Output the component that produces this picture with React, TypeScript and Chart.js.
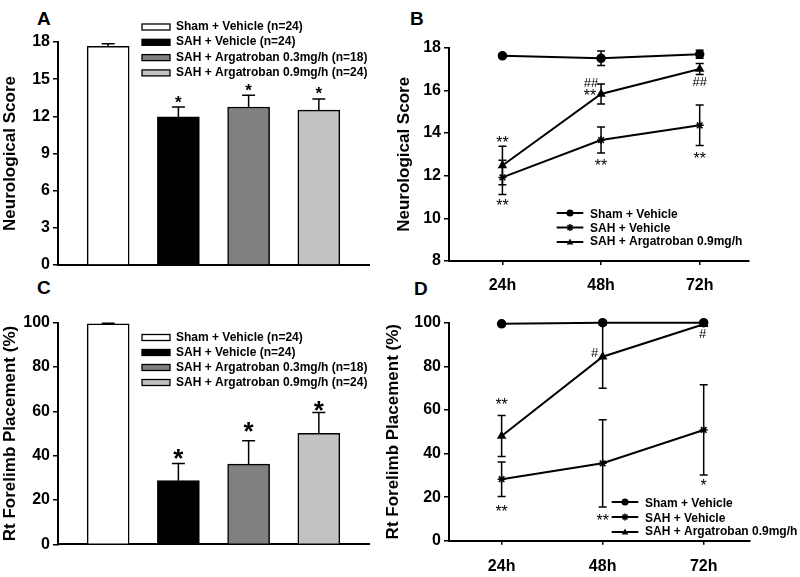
import React, { useEffect, useRef } from "react";
import { Chart, registerables } from "chart.js";

Chart.register(...registerables);

const FONT = '"Liberation Sans", Arial, Helvetica, sans-serif';

// ---------------- data ----------------
const BAR_GROUPS = [
  "Sham + Vehicle (n=24)",
  "SAH + Vehicle (n=24)",
  "SAH + Argatroban 0.3mg/h (n=18)",
  "SAH + Argatroban 0.9mg/h (n=24)",
];
const BAR_X = [0, 1, 2, 3];
const BAR_COLORS = ["#ffffff", "#000000", "#808080", "#c2c2c2"];

const A_SCORE = [17.65, 11.95, 12.75, 12.5];
const A_SEM = [0.2, 0.8, 0.95, 0.9];
const A_SIG = ["", "*", "*", "*"];
const A_Y_TICKS = [0, 3, 6, 9, 12, 15, 18];

const C_PLACEMENT = [99.5, 28.7, 36.2, 50.1];
const C_SEM = [0.3, 7.8, 10.5, 9.4];
const C_SIG = ["", "*", "*", "*"];
const C_Y_TICKS = [0, 20, 40, 60, 80, 100];

const TIMES = [24, 48, 72];
const TIME_LABELS = ["24h", "48h", "72h"];
const LINE_GROUPS = ["Sham + Vehicle", "SAH + Vehicle", "SAH + Argatroban 0.9mg/h"];
const LINE_MARKERS = ["circle", "star", "triangle"];

const B_SHAM = [17.62, 17.5, 17.69];
const B_SHAM_SEM = [0.08, 0.34, 0.19];
const B_SAH = [11.92, 13.67, 14.36];
const B_SAH_SEM = [0.8, 0.61, 0.95];
const B_ARG = [12.48, 15.83, 17.0];
const B_ARG_SEM = [0.9, 0.47, 0.26];
const B_Y_TICKS = [8, 10, 12, 14, 16, 18];

const D_SHAM = [99.5, 100, 100];
const D_SHAM_SEM = [0.3, 0, 0];
const D_SAH = [28.2, 35.5, 50.8];
const D_SAH_SEM = [7.9, 20, 20.7];
const D_ARG = [48.0, 84.4, 99.3];
const D_ARG_SEM = [9.4, 14.5, 0.6];
const D_Y_TICKS = [0, 20, 40, 60, 80, 100];

// significance marks: text, series, point index, anchor
const B_SIG = [
  { text: "**", series: 2, i: 0, at: "top" },
  { text: "**", series: 1, i: 0, at: "bottom" },
  { text: "##", series: 2, i: 1, at: "point" },
  { text: "**", series: 2, i: 1, at: "point" },
  { text: "**", series: 1, i: 1, at: "bottom" },
  { text: "##", series: 2, i: 2, at: "bottom" },
  { text: "**", series: 1, i: 2, at: "bottom" },
];
const D_SIG = [
  { text: "**", series: 2, i: 0, at: "top" },
  { text: "**", series: 1, i: 0, at: "bottom" },
  { text: "#", series: 2, i: 1, at: "point" },
  { text: "**", series: 1, i: 1, at: "bottom" },
  { text: "*", series: 1, i: 2, at: "bottom" },
  { text: "#", series: 2, i: 2, at: "point" },
];

// ---------------- layout (page pixels) ----------------
const PANELS: any = {
  A: { left: 0, top: 0, width: 400, height: 280, area: { l: 58, t: 42, r: 369, b: 265 } },
  B: { left: 394, top: 0, width: 406, height: 295, area: { l: 449, t: 47.7, r: 749, b: 261 } },
  C: { left: 0, top: 280, width: 400, height: 297, area: { l: 58, t: 322.7, r: 369, b: 544.3 } },
  D: { left: 383, top: 280, width: 417, height: 297, area: { l: 449, t: 322.7, r: 750, b: 540.7 } },
};
const A_SIG_OFFSET = [0, -8, -8, -8];
const C_SIG_OFFSET = [0, -9, -14, -6];
const B_SIG_OFFSET = [[0, -7], [0, 8], [-10, -11], [-11, -2], [0, 9], [0, 7], [0, 9.5]];
const D_SIG_OFFSET = [[0, -15], [0, 12], [-8, -4], [0, 10], [0, 7], [-1, 9]];

function drawMarker(ctx: CanvasRenderingContext2D, style: string, x: number, y: number, r: number) {
  ctx.save();
  ctx.fillStyle = "#000";
  ctx.strokeStyle = "#000";
  ctx.lineWidth = 1.5;
  ctx.beginPath();
  if (style === "circle") {
    ctx.arc(x, y, r, 0, Math.PI * 2);
    ctx.fill();
  } else if (style === "triangle") {
    ctx.moveTo(x, y - r);
    ctx.lineTo(x + r * 0.95, y + r * 0.7);
    ctx.lineTo(x - r * 0.95, y + r * 0.7);
    ctx.closePath();
    ctx.fill();
  } else {
    for (let k = 0; k < 4; k++) {
      const a = (k * Math.PI) / 4;
      ctx.moveTo(x - Math.cos(a) * r, y - Math.sin(a) * r);
      ctx.lineTo(x + Math.cos(a) * r, y + Math.sin(a) * r);
    }
    ctx.stroke();
  }
  ctx.restore();
}

function centeredText(ctx: CanvasRenderingContext2D, text: string, x: number, y: number, align: CanvasTextAlign) {
  ctx.textAlign = align;
  ctx.textBaseline = "alphabetic";
  const m = ctx.measureText(text);
  ctx.fillText(text, x, y + (m.actualBoundingBoxAscent - m.actualBoundingBoxDescent) / 2);
}

const decorPlugin = {
  id: "decor",
  afterDatasetsDraw(chart: any, _args: any, opts: any) {
    const ctx: CanvasRenderingContext2D = chart.ctx;
    const xs = chart.scales.x;
    const ys = chart.scales.y;
    const [ox, oy] = opts.origin;
    ctx.save();
    ctx.fillStyle = "#000";
    ctx.strokeStyle = "#000";
    // error bars
    (opts.errors || []).forEach((errs: number[], di: number) => {
      const ds = chart.data.datasets[di];
      ds.data.forEach((pt: any, j: number) => {
        const e = errs[j];
        if (!e) return;
        const px = xs.getPixelForValue(pt.x);
        const yTop = ys.getPixelForValue(pt.y + e);
        const yBot = opts.errorMode === "up" ? ys.getPixelForValue(pt.y) : ys.getPixelForValue(pt.y - e);
        const cap = opts.cap;
        ctx.lineWidth = opts.errorWidth;
        ctx.beginPath();
        ctx.moveTo(px, yTop);
        ctx.lineTo(px, yBot);
        ctx.moveTo(px - cap, yTop);
        ctx.lineTo(px + cap, yTop);
        if (opts.errorMode !== "up") {
          ctx.moveTo(px - cap, yBot);
          ctx.lineTo(px + cap, yBot);
        }
        ctx.stroke();
      });
    });
    // significance marks
    (opts.marks || []).forEach((m: any) => {
      if (!m.text) return;
      const pt = chart.data.datasets[m.series].data[m.i];
      const e = opts.errors[m.series][m.i];
      const v = m.at === "top" ? pt.y + e : m.at === "bottom" ? pt.y - e : pt.y;
      const x = xs.getPixelForValue(pt.x) + m.dx;
      const y = ys.getPixelForValue(v) + m.dy;
      ctx.font = m.text.includes("#") ? opts.hashFont : opts.starFont;
      centeredText(ctx, m.text, x, y, "center");
    });
    // legend
    const lg = opts.legend;
    ctx.font = `bold 12px ${FONT}`;
    lg.labels.forEach((label: string, i: number) => {
      const y = lg.y + i * lg.gap - oy;
      if (lg.type === "box") {
        const x = lg.x - ox;
        ctx.fillStyle = lg.colors[i];
        ctx.fillRect(x, y - lg.boxH / 2, lg.boxW, lg.boxH);
        ctx.lineWidth = 1.3;
        ctx.strokeStyle = "#000";
        ctx.strokeRect(x, y - lg.boxH / 2, lg.boxW, lg.boxH);
      } else {
        ctx.lineWidth = 2;
        ctx.strokeStyle = "#000";
        ctx.beginPath();
        ctx.moveTo(lg.x1 - ox, y);
        ctx.lineTo(lg.x2 - ox, y);
        ctx.stroke();
        drawMarker(ctx, lg.markers[i], (lg.x1 + lg.x2) / 2 - ox, y, 3.5);
      }
      ctx.fillStyle = "#000";
      centeredText(ctx, label, lg.textX - ox, y, "left");
    });
    ctx.restore();
  },
};

function frame(p: any) {
  return {
    yWidth: p.area.l - p.left,
    padTop: p.area.t - p.top,
    padRight: p.left + p.width - p.area.r,
    xHeight: p.top + p.height - p.area.b,
  };
}

function yAxis(p: any, ticks: number[], title: string) {
  const f = frame(p);
  return {
    type: "linear",
    min: ticks[0],
    max: ticks[ticks.length - 1],
    afterBuildTicks: (s: any) => {
      s.ticks = ticks.map((v) => ({ value: v }));
    },
    afterFit: (s: any) => {
      s.width = f.yWidth;
    },
    border: { display: true, color: "#000", width: 2 },
    grid: { display: true, drawOnChartArea: false, drawTicks: true, tickLength: 5, color: "#000", lineWidth: 1.5 },
    ticks: { color: "#000", padding: 3, font: { family: FONT, size: 16, weight: "bold" } },
    title: {
      display: true,
      text: title,
      color: "#000",
      padding: { top: 0, bottom: 0 },
      font: { family: FONT, size: 17, weight: "bold" },
    },
  };
}

function barConfig(key: string, values: number[], sems: number[], sig: string[], sigOff: number[], yTicks: number[], yTitle: string, starFont: string, legendY: number, legendGap: number): any {
  const p = PANELS[key];
  const f = frame(p);
  return {
    type: "bar",
    data: {
      datasets: [
        {
          data: BAR_X.map((x, i) => ({ x, y: values[i] })),
          backgroundColor: BAR_COLORS,
          borderColor: "#000",
          borderWidth: 1.5,
          borderSkipped: "bottom",
          barThickness: 42,
        },
      ],
    },
    options: {
      animation: false,
      responsive: false,
      maintainAspectRatio: false,
      devicePixelRatio: 1,
      layout: { padding: { left: 0, top: f.padTop, right: f.padRight, bottom: 0 } },
      scales: {
        x: {
          type: "linear",
          offset: false,
          min: -50 / 70,
          max: 3 + 50 / 70,
          afterFit: (s: any) => {
            s.height = f.xHeight;
          },
          border: { display: true, color: "#000", width: 2 },
          grid: { display: false },
          ticks: { display: false },
        },
        y: yAxis(p, yTicks, yTitle),
      },
      plugins: {
        legend: { display: false },
        tooltip: { enabled: false },
        decor: {
          origin: [p.left, p.top],
          errors: [sems],
          errorMode: "up",
          cap: 6.5,
          errorWidth: 1.5,
          starFont,
          hashFont: starFont,
          marks: sig.map((text, i) => ({ text, series: 0, i, at: "top", dx: 0, dy: sigOff[i] })),
          legend: {
            type: "box",
            labels: BAR_GROUPS,
            colors: BAR_COLORS,
            x: 142,
            textX: 176,
            boxW: 28,
            boxH: 6,
            y: legendY,
            gap: legendGap,
          },
        },
      },
    },
    plugins: [decorPlugin],
  };
}

function lineConfig(key: string, series: number[][], sems: number[][], sig: any[], sigOff: number[][], yTicks: number[], yTitle: string, xMin: number, xMax: number, labelPad: number, legend: any): any {
  const p = PANELS[key];
  const f = frame(p);
  return {
    type: "line",
    data: {
      datasets: series.map((vals, si) => ({
        label: LINE_GROUPS[si],
        data: TIMES.map((t, i) => ({ x: t, y: vals[i] })),
        borderColor: "#000",
        backgroundColor: "#000",
        borderWidth: 2,
        pointStyle: LINE_MARKERS[si],
        pointRadius: 4,
        pointBackgroundColor: "#000",
        pointBorderColor: "#000",
        pointBorderWidth: 1.5,
        tension: 0,
        clip: false,
      })),
    },
    options: {
      animation: false,
      responsive: false,
      maintainAspectRatio: false,
      devicePixelRatio: 1,
      layout: { padding: { left: 0, top: f.padTop, right: f.padRight, bottom: 0 } },
      scales: {
        x: {
          type: "linear",
          min: xMin,
          max: xMax,
          afterBuildTicks: (s: any) => {
            s.ticks = TIMES.map((v) => ({ value: v }));
          },
          afterFit: (s: any) => {
            s.height = f.xHeight;
          },
          border: { display: true, color: "#000", width: 2 },
          grid: { display: true, drawOnChartArea: false, drawTicks: true, tickLength: 4, color: "#000", lineWidth: 1.5 },
          ticks: {
            color: "#000",
            padding: labelPad,
            maxRotation: 0,
            font: { family: FONT, size: 16, weight: "bold" },
            callback: (v: number) => TIME_LABELS[TIMES.indexOf(v)],
          },
        },
        y: yAxis(p, yTicks, yTitle),
      },
      plugins: {
        legend: { display: false },
        tooltip: { enabled: false },
        decor: {
          origin: [p.left, p.top],
          errors: sems,
          errorMode: "both",
          cap: 4,
          errorWidth: 1.5,
          starFont: `16px ${FONT}`,
          hashFont: `13px ${FONT}`,
          marks: sig.map((m, i) => ({ ...m, dx: sigOff[i][0], dy: sigOff[i][1] })),
          legend: { type: "line", labels: LINE_GROUPS, markers: LINE_MARKERS, ...legend },
        },
      },
    },
    plugins: [decorPlugin],
  };
}

function Panel({ id, make }: { id: string; make: () => any }) {
  const ref = useRef<HTMLCanvasElement>(null);
  const p = PANELS[id];
  useEffect(() => {
    const chart = new Chart(ref.current as HTMLCanvasElement, make());
    return () => chart.destroy();
  }, []);
  return (
    <canvas
      ref={ref}
      width={p.width}
      height={p.height}
      style={{ position: "absolute", left: p.left, top: p.top, width: p.width, height: p.height }}
    />
  );
}

const LETTERS = [
  { t: "A", x: 37, y: 9 },
  { t: "B", x: 410, y: 9 },
  { t: "C", x: 37, y: 278 },
  { t: "D", x: 414, y: 279 },
];

export default function App() {
  return (
    <div
      style={{
        position: "fixed",
        left: 0,
        top: 0,
        width: 800,
        height: 577,
        background: "#fff",
        overflow: "hidden",
      }}
    >
      {LETTERS.map((l) => (
        <div
          key={l.t}
          style={{
            position: "absolute",
            left: l.x,
            top: l.y,
            font: `bold 19px ${FONT}`,
            lineHeight: "19px",
            color: "#000",
          }}
        >
          {l.t}
        </div>
      ))}
      <Panel
        id="A"
        make={() =>
          barConfig("A", A_SCORE, A_SEM, A_SIG, A_SIG_OFFSET, A_Y_TICKS, "Neurological Score", `bold 17px ${FONT}`, 27, 15.3)
        }
      />
      <Panel
        id="C"
        make={() =>
          barConfig("C", C_PLACEMENT, C_SEM, C_SIG, C_SIG_OFFSET, C_Y_TICKS, "Rt Forelimb Placement (%)", `bold 26px ${FONT}`, 337.5, 15)
        }
      />
      <Panel
        id="B"
        make={() =>
          lineConfig(
            "B",
            [B_SHAM, B_SAH, B_ARG],
            [B_SHAM_SEM, B_SAH_SEM, B_ARG_SEM],
            B_SIG,
            B_SIG_OFFSET,
            B_Y_TICKS,
            "Neurological Score",
            11,
            84,
            11,
            { x1: 556.7, x2: 583.3, textX: 590, y: 213, gap: 14.5 }
          )
        }
      />
      <Panel
        id="D"
        make={() =>
          lineConfig(
            "D",
            [D_SHAM, D_SAH, D_ARG],
            [D_SHAM_SEM, D_SAH_SEM, D_ARG_SEM],
            D_SIG,
            D_SIG_OFFSET,
            D_Y_TICKS,
            "Rt Forelimb Placement (%)",
            11.5,
            83,
            12,
            { x1: 611.7, x2: 638.3, textX: 645, y: 502, gap: 15 }
          )
        }
      />
    </div>
  );
}
